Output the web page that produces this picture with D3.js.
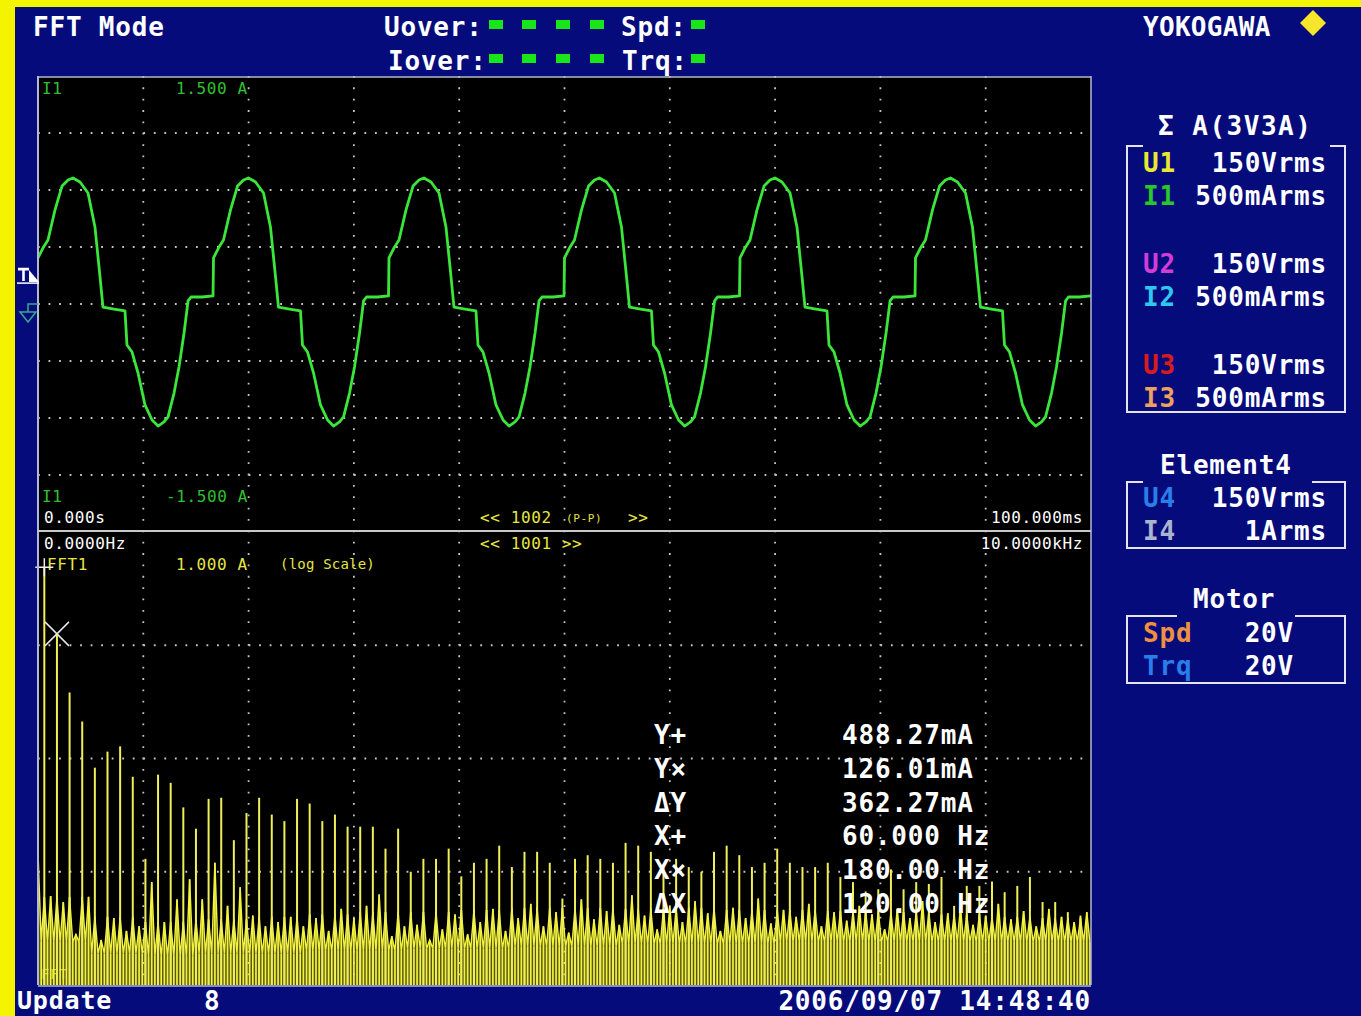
<!DOCTYPE html>
<html>
<head>
<meta charset="utf-8">
<script src="https://cdn.jsdelivr.net/npm/d3@7"></script>
<style>
body { margin: 0; background: #fff; }
svg { display: block; }
text { font-family: "DejaVu Sans Mono", "Liberation Mono", monospace; }
</style>
</head>
<body>
<script>
var width = 1361;
var height = 1016;
var plotL = 38, plotR = 1091, waveTop = 76, divY = 532, fftBot = 985;

// axis spans shown on screen
var timeSpan = [0, 100];          // ms
var currentRange = [-1.5, 1.5];   // A
var freqSpan = [0, 10000];        // Hz
var logRange = [0.0001, 1];       // A, 4 decades

// I1 trace: one 60 Hz period (ms from period start, A)
var periodT = [0, 0.47, 0.95, 1.61, 2.28, 2.85, 3.32, 3.99, 4.75, 5.41, 5.89, 6.17, 7.22, 8.26,
    8.45, 8.93, 9.50, 10.16, 10.83, 11.40, 11.97, 12.35, 12.92, 13.39, 13.87, 14.25, 14.53, 15.57, 16.62];
var periodI = [0.303, 0.368, 0.421, 0.618, 0.776, 0.816, 0.829, 0.803, 0.730, 0.507, 0.178, -0.020, -0.033, -0.046,
    -0.270, -0.316, -0.454, -0.664, -0.763, -0.803, -0.776, -0.743, -0.586, -0.414, -0.191, 0.020, 0.046, 0.046, 0.053];
var periodStarts = [0, 16.667, 33.333, 50, 66.667, 83.333];
var triggerLevel = 0.19;

// FFT of I1, odd harmonics 1,3,5...165 of 60 Hz (mA)
var fundamentalHz = 60;
var oddHarmonicMA = [488.27, 126.01, 38.2, 21.2, 8.3, 11.5, 12.8, 6.9, 1.3, 7.2,
    6.1, 3.7, 2.4, 4.4, 4.5, 1.9, 3.3, 4.5, 3.2, 2.8,
    4.4, 4.0, 2.8, 3.2, 2.5, 2.5, 2.5, 1.6, 2.4, 1.0,
    1.3, 1.3, 1.6, 0.91, 1.2, 1.3, 1.7, 1.1, 1.5, 1.5,
    1.2, 0.58, 1.3, 1.4, 1.3, 1.2, 1.8, 1.7, 1.5, 1.1,
    1.3, 1.1, 1.0, 1.5, 1.7, 1.4, 1.1, 1.2, 1.6, 1.2,
    1.1, 1.1, 1.2, 0.90, 0.81, 0.67, 0.70, 1.05, 0.70, 0.81,
    0.78, 0.90, 0.50, 0.75, 0.75, 0.82, 0.66, 0.75, 0.90, 0.54,
    0.54, 0.44, 0.41];
// noise peaks at even harmonics 2,4...166 (mA)
var evenPeakMA = [0.61, 0.54, 0.28, 0.60, 0.25, 0.39, 0.30, 0.33, 0.81, 0.36,
    0.57, 0.86, 0.57, 1.2, 0.50, 0.73, 0.41, 0.33, 0.36, 0.40,
    0.33, 0.39, 0.30, 0.47, 0.39, 0.50, 0.63, 0.27, 0.33, 0.34,
    0.25, 0.31, 0.42, 0.28, 0.36, 0.47, 0.30, 0.39, 0.52, 0.33,
    0.44, 0.29, 0.57, 0.38, 0.45, 0.34, 0.62, 0.41, 0.31, 0.49,
    0.36, 0.55, 0.43, 0.30, 0.48, 0.39, 0.58, 0.35, 0.46, 0.40,
    0.52, 0.33, 0.44, 0.37, 0.50, 0.42, 0.31, 0.47, 0.39, 0.55,
    0.36, 0.43, 0.49, 0.34, 0.41, 0.52, 0.38, 0.45, 0.33, 0.47,
    0.40, 0.36, 0.44];
// noise floor per 500 Hz band (mA): dips between lines and bumps at odd-harmonic feet
var valleyMA = [0.24, 0.19, 0.18, 0.19, 0.19, 0.20, 0.20, 0.21, 0.21, 0.22,
    0.22, 0.23, 0.23, 0.23, 0.24, 0.24, 0.24, 0.24, 0.24, 0.24];
var oddBaseMA = [0.60, 0.40, 0.36, 0.38, 0.40, 0.42, 0.44, 0.44, 0.46, 0.48,
    0.48, 0.47, 0.48, 0.46, 0.46, 0.45, 0.44, 0.42, 0.40, 0.39];
var dcNoiseMA = 1.5;

// cursor readout
var cursorNames = ["Y+", "Y\u00d7", "\u0394Y", "X+", "X\u00d7", "\u0394X"];
var cursorValues = ["488.27mA", "126.01mA", "362.27mA", "60.000 Hz", "180.00 Hz", "120.00 Hz"];
var cursorPlusHz = 60, cursorCrossHz = 180;

// range panel
var wiringTitle = "\u03a3 A(3V3A)";
var sigmaNames = ["U1", "I1", "U2", "I2", "U3", "I3"];
var sigmaRanges = ["150Vrms", "500mArms", "150Vrms", "500mArms", "150Vrms", "500mArms"];
var sigmaColors = ["#e8e830", "#28c828", "#d23cd8", "#2ec8ee", "#d81c1c", "#eea060"];
var elem4Names = ["U4", "I4"];
var elem4Ranges = ["150Vrms", "1Arms"];
var elem4Colors = ["#2a7ee8", "#aab4cc"];
var motorNames = ["Spd", "Trq"];
var motorRanges = ["20V", "20V"];
var motorColors = ["#ee9040", "#2a7ee8"];

var navy = "#060b7c", yellow = "#f3f33c", green = "#3be63b", dotCol = "#c4c4c4";

var svg = d3.select("body").append("svg")
    .attr("width", width)
    .attr("height", height);

svg.append("rect").attr("width", width).attr("height", height).attr("fill", navy);
svg.append("rect").attr("x", 0).attr("y", 0).attr("width", width).attr("height", 7).attr("fill", "#f4f400");
svg.append("rect").attr("x", 0).attr("y", 0).attr("width", 15).attr("height", height).attr("fill", "#f4f400");

function label(x, y, s, o) {
    o = o || {};
    return svg.append("text")
        .attr("x", x).attr("y", y)
        .attr("fill", o.fill || "#fff")
        .attr("font-size", o.size || 26)
        .attr("font-weight", o.weight || "bold")
        .attr("letter-spacing", o.ls != null ? o.ls : 0.8)
        .attr("text-anchor", o.anchor || "start")
        .text(s);
}

// header
label(33, 36, "FFT Mode");
label(384, 36, "Uover:");
label(388, 70, "Iover:");
label(621, 36, "Spd:");
label(622, 70, "Trq:");
[489, 522, 556, 590].forEach(function (x) {
    svg.append("rect").attr("x", x).attr("y", 20).attr("width", 14).attr("height", 9).attr("fill", "#19e619");
    svg.append("rect").attr("x", x).attr("y", 54).attr("width", 14).attr("height", 9).attr("fill", "#19e619");
});
svg.append("rect").attr("x", 691).attr("y", 20).attr("width", 14).attr("height", 9).attr("fill", "#19e619");
svg.append("rect").attr("x", 691).attr("y", 54).attr("width", 14).attr("height", 9).attr("fill", "#19e619");
label(1143, 36, "YOKOGAWA", { ls: 0.3 });
svg.append("path").attr("d", "M1313,10 L1326,23 L1313,36 L1300,23 Z").attr("fill", "#f6e52a");

// plot area
svg.append("rect").attr("x", plotL).attr("y", waveTop).attr("width", plotR - plotL)
    .attr("height", fftBot - waveTop).attr("fill", "#000");

var xTime = d3.scaleLinear().domain(timeSpan).range([plotL, plotR]);
var yCur = d3.scaleLinear().domain(currentRange).range([divY, waveTop]);
var xFreq = d3.scaleLinear().domain(freqSpan).range([plotL, plotR]);
var yAmp = d3.scaleLog().domain(logRange).range([fftBot, divY]);

var grid = svg.append("g");
d3.range(10, 100, 10).forEach(function (t) {
    grid.append("line").attr("x1", xTime(t)).attr("x2", xTime(t))
        .attr("y1", waveTop).attr("y2", fftBot)
        .attr("stroke", dotCol).attr("stroke-width", 1.8)
        .attr("stroke-dasharray", "1.8,9.56");
});
var hTop = d3.range(-1.125, 1.2, 0.375);
var hBot = [0.1, 0.01, 0.001];
hTop.map(yCur).concat(hBot.map(yAmp)).forEach(function (y) {
    grid.append("line").attr("x1", plotL).attr("x2", plotR)
        .attr("y1", y).attr("y2", y)
        .attr("stroke", dotCol).attr("stroke-width", 1.8)
        .attr("stroke-dasharray", "1.8,8.73");
});

// I1 trace
var wave = [];
periodStarts.forEach(function (s) {
    periodT.forEach(function (t, i) {
        if (s + t <= timeSpan[1]) wave.push([s + t, periodI[i]]);
    });
});
wave.push([timeSpan[1], periodI[periodI.length - 1]]);
svg.append("path")
    .datum(wave)
    .attr("fill", "none")
    .attr("stroke", green)
    .attr("stroke-width", 2.8)
    .attr("stroke-linejoin", "round")
    .attr("d", d3.line().x(function (d) { return xTime(d[0]); }).y(function (d) { return yCur(d[1]); }));

// plot labels
var sm = { size: 16, weight: "normal", ls: 0.6 };
label(42, 94, "I1", Object.assign({}, sm, { fill: "#2fc02f" }));
label(176, 94, "1.500 A", Object.assign({}, sm, { fill: "#2fc02f" }));
label(42, 502, "I1", Object.assign({}, sm, { fill: "#2fc02f" }));
label(166, 502, "-1.500 A", Object.assign({}, sm, { fill: "#2fc02f" }));
label(44, 523, "0.000s", sm);
label(1083, 523, "100.000ms", Object.assign({}, sm, { anchor: "end" }));
label(480, 523, "<< 1002", Object.assign({}, sm, { fill: "#e6e640" }));
label(566, 522, "(P-P)", Object.assign({}, sm, { fill: "#e6e640", size: 11 }));
label(628, 523, ">>", Object.assign({}, sm, { fill: "#e6e640" }));
label(44, 549, "0.0000Hz", sm);
label(1083, 549, "10.0000kHz", Object.assign({}, sm, { anchor: "end" }));
label(480, 549, "<< 1001 >>", Object.assign({}, sm, { fill: "#e6e640" }));
label(47, 570, "FFT1", Object.assign({}, sm, { fill: "#e6e640" }));
label(176, 570, "1.000 A", Object.assign({}, sm, { fill: "#e6e640" }));
label(280, 569, "(log Scale)", Object.assign({}, sm, { fill: "#e6e640", size: 14, ls: 0.2 }));
label(41, 979, "FFT", Object.assign({}, sm, { fill: "#b8b830", size: 14 }));

// FFT noise floor
var noisePts = [];
for (var j = 0; j * 30 <= freqSpan[1] - 10; j++) {
    var f = j * 30, v;
    var band = Math.min(valleyMA.length - 1, Math.floor(f / 500));
    if (j === 0) v = dcNoiseMA;
    else if (j % 2 === 1) v = valleyMA[band];
    else {
        var m = j / 2;
        v = (m % 2 === 1) ? oddBaseMA[band] : evenPeakMA[m / 2 - 1];
    }
    noisePts.push([f, v / 1000]);
}
var spec = svg.append("g");
spec.append("path").datum(noisePts)
    .attr("fill", yellow).attr("fill-opacity", 0.35).attr("stroke", "none")
    .attr("d", d3.area().x(function (d) { return xFreq(d[0]); })
        .y0(yAmp(logRange[0])).y1(function (d) { return yAmp(d[1]); }));
spec.selectAll("line.nz").data(noisePts).enter().append("line")
    .attr("class", "nz")
    .attr("x1", function (d) { return xFreq(d[0]); })
    .attr("x2", function (d) { return xFreq(d[0]); })
    .attr("y1", yAmp(logRange[0]))
    .attr("y2", function (d) { return yAmp(d[1]); })
    .attr("stroke", yellow).attr("stroke-width", 1.7);
spec.append("path").datum(noisePts)
    .attr("fill", "none").attr("stroke", yellow).attr("stroke-width", 1.4)
    .attr("d", d3.line().x(function (d) { return xFreq(d[0]); }).y(function (d) { return yAmp(d[1]); }));

// harmonic lines
spec.selectAll("line.hm").data(oddHarmonicMA).enter().append("line")
    .attr("class", "hm")
    .attr("x1", function (d, i) { return xFreq(fundamentalHz * (2 * i + 1)); })
    .attr("x2", function (d, i) { return xFreq(fundamentalHz * (2 * i + 1)); })
    .attr("y1", yAmp(logRange[0]))
    .attr("y2", function (d) { return yAmp(d / 1000); })
    .attr("stroke", "#efef5a").attr("stroke-width", 2);

// cursors
var cpX = xFreq(cursorPlusHz), cpY = yAmp(oddHarmonicMA[0] / 1000);
svg.append("path").attr("d", "M" + (cpX - 9) + "," + cpY + " H" + (cpX + 9) + " M" + cpX + "," + (cpY - 9) + " V" + (cpY + 9))
    .attr("stroke", "#f0f0f0").attr("stroke-width", 1.5);
var ccX = xFreq(cursorCrossHz), ccY = yAmp(oddHarmonicMA[1] / 1000);
svg.append("path").attr("d", "M" + (ccX - 12) + "," + (ccY - 12) + " L" + (ccX + 12) + "," + (ccY + 12) +
    " M" + (ccX + 12) + "," + (ccY - 12) + " L" + (ccX - 12) + "," + (ccY + 12))
    .attr("stroke", "#e8e8e8").attr("stroke-width", 1.5);

cursorNames.forEach(function (n, i) {
    label(654, 744 + i * 33.8, n);
    label(842, 744 + i * 33.8, cursorValues[i]);
});

// frame lines
svg.append("line").attr("x1", plotL).attr("x2", plotL).attr("y1", waveTop).attr("y2", fftBot)
    .attr("stroke", "#b4b8d8").attr("stroke-width", 2);
svg.append("line").attr("x1", plotR).attr("x2", plotR).attr("y1", waveTop).attr("y2", fftBot)
    .attr("stroke", "#b4b8d8").attr("stroke-width", 1.5);
svg.append("line").attr("x1", plotL).attr("x2", plotR).attr("y1", waveTop + 1).attr("y2", waveTop + 1)
    .attr("stroke", "#b4b8d8").attr("stroke-width", 1.5);
svg.append("line").attr("x1", plotL).attr("x2", plotR).attr("y1", divY - 1).attr("y2", divY - 1)
    .attr("stroke", "#c8c8c8").attr("stroke-width", 2);
svg.append("line").attr("x1", plotL).attr("x2", plotR).attr("y1", fftBot + 1).attr("y2", fftBot + 1)
    .attr("stroke", "#b4b8d8").attr("stroke-width", 1.5);

// trigger and ground markers
var tY = yCur(triggerLevel);
svg.append("path").attr("d", "M18," + (tY - 6) + " H29 M23.5," + (tY - 6) + " V" + (tY + 6))
    .attr("stroke", "#fff").attr("stroke-width", 2.6).attr("fill", "none");
svg.append("path").attr("d", "M29," + (tY - 5) + " L39," + (tY + 7) + " L29," + (tY + 7) + " Z").attr("fill", "#fff");
svg.append("line").attr("x1", 17).attr("x2", 39).attr("y1", tY + 8).attr("y2", tY + 8)
    .attr("stroke", "#fff").attr("stroke-width", 1.5);
var gY = yCur(0);
svg.append("path").attr("d", "M38," + gY + " H28 V" + (gY + 8) + " M20," + (gY + 8) + " H36 L28," + (gY + 18) + " Z")
    .attr("fill", "none").attr("stroke", "#3aa890").attr("stroke-width", 1.5);

// range panel
function bracketBox(y0, y1, gapL, gapR) {
    svg.append("path")
        .attr("d", "M" + gapL + "," + y0 + " H1127 V" + y1 + " H1345 V" + y0 + " H" + gapR)
        .attr("fill", "none").attr("stroke", "#e4e4f0").attr("stroke-width", 2);
}
label(1158, 135, wiringTitle, { ls: 1.5 });
bracketBox(146, 412, 1143, 1330);
sigmaNames.forEach(function (n, i) {
    var y = [172, 205, 273, 306, 374, 407][i];
    label(1143, y, n, { fill: sigmaColors[i] });
    label(1327, y, sigmaRanges[i], { anchor: "end" });
});
label(1160, 474, "Element4");
bracketBox(482, 548, 1143, 1312);
elem4Names.forEach(function (n, i) {
    var y = 507 + i * 33;
    label(1143, y, n, { fill: elem4Colors[i] });
    label(1327, y, elem4Ranges[i], { anchor: "end" });
});
label(1193, 608, "Motor");
bracketBox(616, 683, 1177, 1295);
motorNames.forEach(function (n, i) {
    var y = 642 + i * 33;
    label(1143, y, n, { fill: motorColors[i] });
    label(1294, y, motorRanges[i], { anchor: "end" });
});

// status line
label(17, 1009, "Update", { size: 25 });
label(204, 1010, "8", { size: 26 });
label(1091, 1010, "2006/09/07 14:48:40", { anchor: "end", size: 26 });
</script>
</body>
</html>
